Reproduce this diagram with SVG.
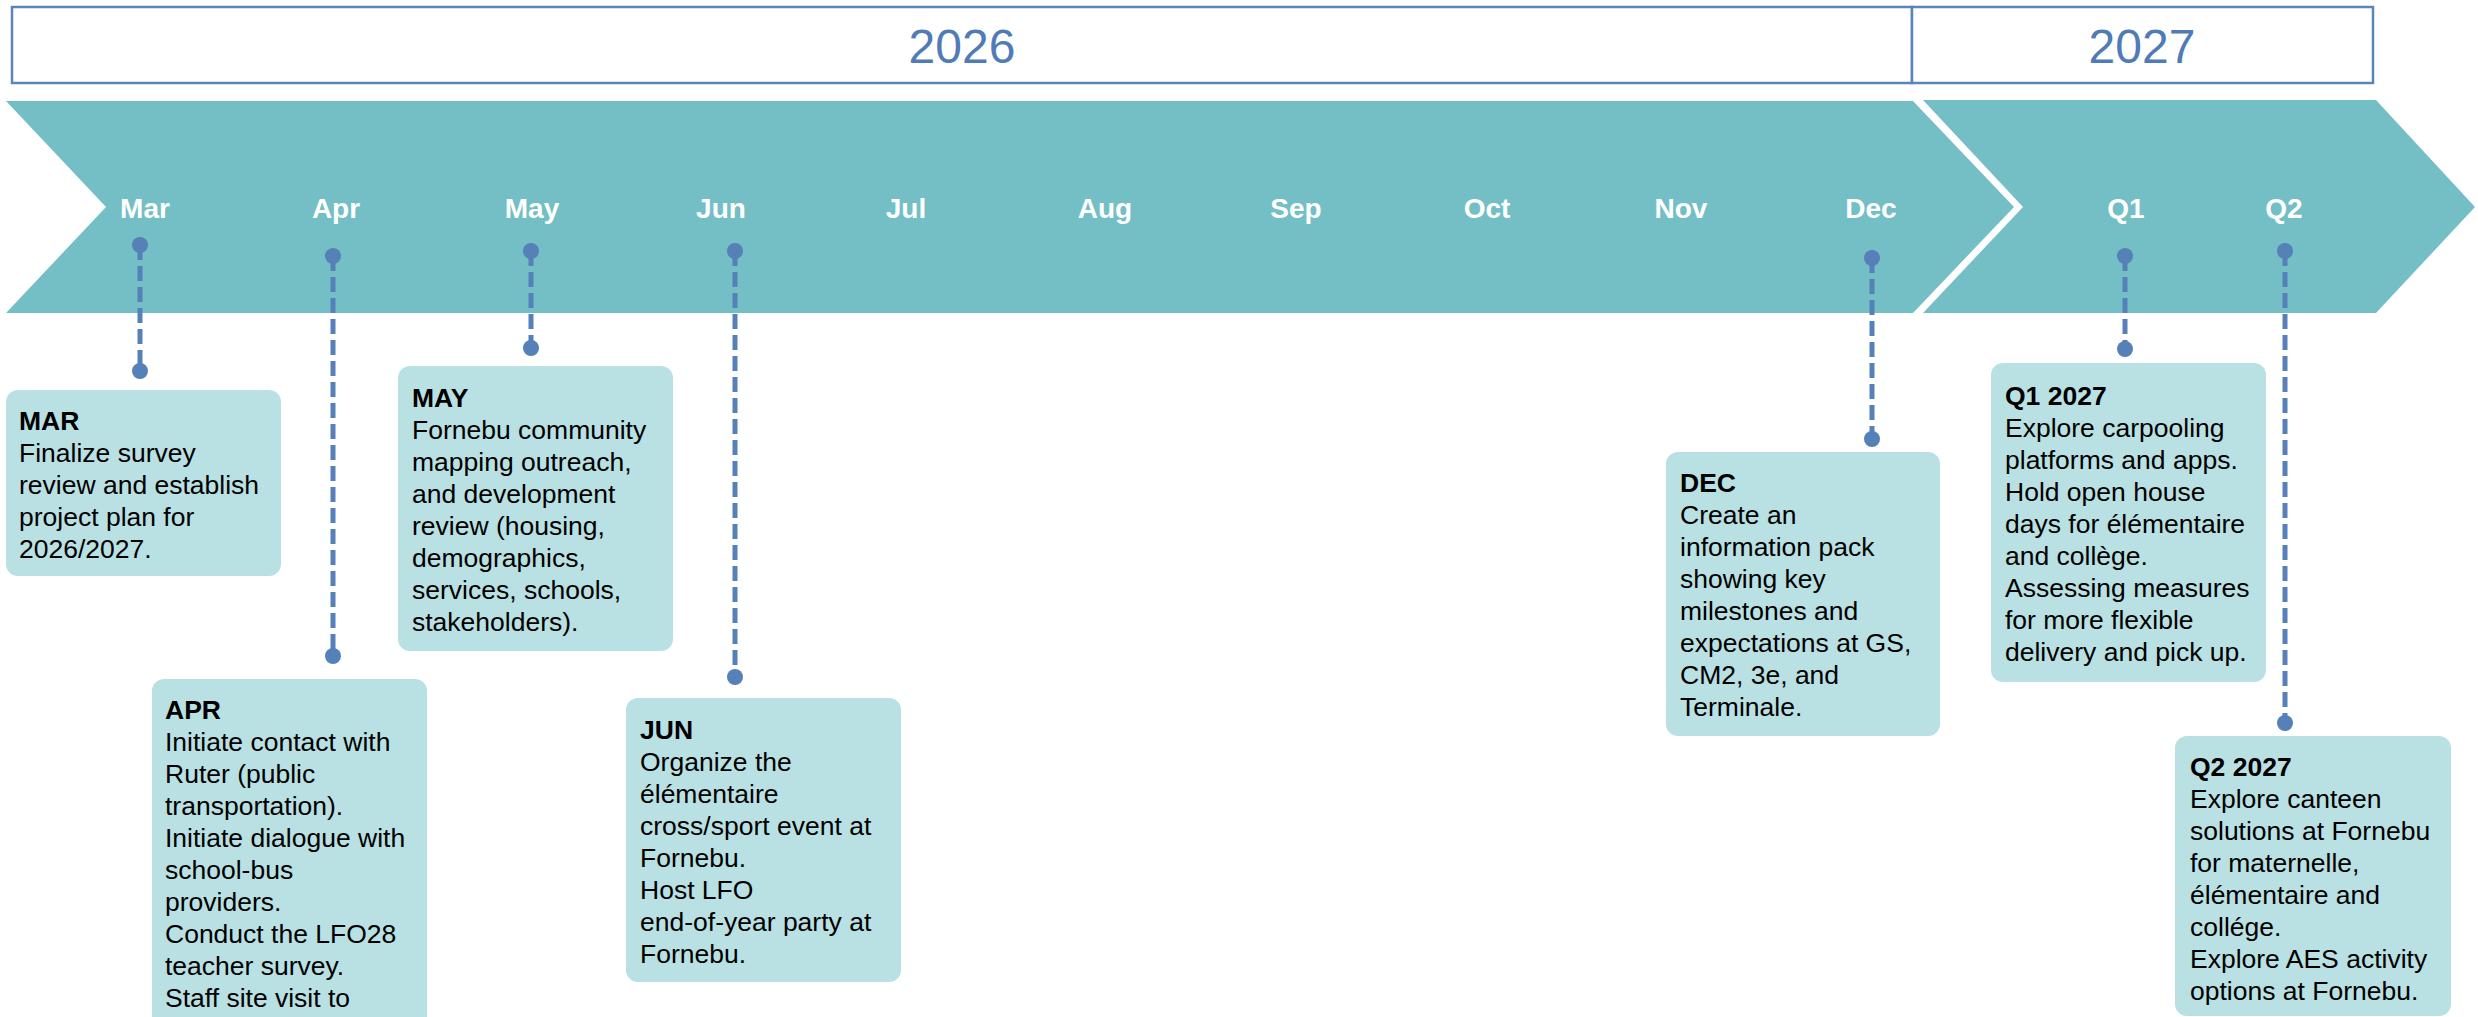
<svg xmlns="http://www.w3.org/2000/svg" width="2478" height="1017" viewBox="0 0 2478 1017">
<style>
.yr{fill:#ffffff;stroke:#5b84bb;stroke-width:2.5}
.yrt{font-family:"Liberation Sans",Arial,sans-serif;font-size:48px;fill:#4f7cb6;text-anchor:middle}
.chev{fill:#73bfc5}
.mon{font-family:"Liberation Sans",Arial,sans-serif;font-size:28px;font-weight:bold;fill:#ffffff;text-anchor:middle}
.box{fill:#b9e0e3}
.txt{font-family:"Liberation Sans",Arial,sans-serif;font-size:26.5px;fill:#000000}
.hd{font-weight:bold}
.pin{stroke:#5580b8;stroke-width:5;stroke-dasharray:15 6;fill:none}
.dot{fill:#5580b8}
</style>
<rect width="2478" height="1017" fill="#ffffff"/>
<g id="year-bar">
<rect class="yr" x="12" y="7" width="1900" height="76"/>
<rect class="yr" x="1912" y="7" width="461" height="76"/>
<text class="yrt" x="962" y="63">2026</text>
<text class="yrt" x="2142" y="63">2027</text>
</g>
<g id="timeline">
<polygon class="chev" points="6,101 1913,101 2014,207 1913,313 6,313 106,207"/>
<polygon class="chev" points="1923,100 2376,100 2475,207 2376,313 1923,313 2023,207"/>
<text class="mon" x="145" y="218">Mar</text>
<text class="mon" x="336" y="218">Apr</text>
<text class="mon" x="532" y="218">May</text>
<text class="mon" x="721" y="218">Jun</text>
<text class="mon" x="906" y="218">Jul</text>
<text class="mon" x="1105" y="218">Aug</text>
<text class="mon" x="1296" y="218">Sep</text>
<text class="mon" x="1487" y="218">Oct</text>
<text class="mon" x="1681" y="218">Nov</text>
<text class="mon" x="1871" y="218">Dec</text>
<text class="mon" x="2126" y="218">Q1</text>
<text class="mon" x="2284" y="218">Q2</text>
</g>
<g id="connectors">
<line class="pin" x1="140" y1="245" x2="140" y2="371"/>
<circle class="dot" cx="140" cy="245" r="8"/><circle class="dot" cx="140" cy="371" r="8"/>
<line class="pin" x1="333" y1="256" x2="333" y2="656"/>
<circle class="dot" cx="333" cy="256" r="8"/><circle class="dot" cx="333" cy="656" r="8"/>
<line class="pin" x1="531" y1="251" x2="531" y2="348"/>
<circle class="dot" cx="531" cy="251" r="8"/><circle class="dot" cx="531" cy="348" r="8"/>
<line class="pin" x1="735" y1="251" x2="735" y2="677"/>
<circle class="dot" cx="735" cy="251" r="8"/><circle class="dot" cx="735" cy="677" r="8"/>
<line class="pin" x1="1872" y1="258" x2="1872" y2="439"/>
<circle class="dot" cx="1872" cy="258" r="8"/><circle class="dot" cx="1872" cy="439" r="8"/>
<line class="pin" x1="2125" y1="256" x2="2125" y2="349"/>
<circle class="dot" cx="2125" cy="256" r="8"/><circle class="dot" cx="2125" cy="349" r="8"/>
<line class="pin" x1="2285" y1="251" x2="2285" y2="723"/>
<circle class="dot" cx="2285" cy="251" r="8"/><circle class="dot" cx="2285" cy="723" r="8"/>
</g>
<g id="node-mar">
<rect class="box" x="6" y="390" width="275" height="186" rx="12"/>
<text class="txt" x="19" y="430"><tspan class="hd">MAR</tspan><tspan x="19" dy="32">Finalize survey</tspan><tspan x="19" dy="32">review and establish</tspan><tspan x="19" dy="32">project plan for</tspan><tspan x="19" dy="32">2026/2027.</tspan></text>
</g>
<g id="node-apr">
<rect class="box" x="152" y="679" width="275" height="400" rx="12"/>
<text class="txt" x="165" y="719"><tspan class="hd">APR</tspan><tspan x="165" dy="32">Initiate contact with</tspan><tspan x="165" dy="32">Ruter (public</tspan><tspan x="165" dy="32">transportation).</tspan><tspan x="165" dy="32">Initiate dialogue with</tspan><tspan x="165" dy="32">school-bus</tspan><tspan x="165" dy="32">providers.</tspan><tspan x="165" dy="32">Conduct the LFO28</tspan><tspan x="165" dy="32">teacher survey.</tspan><tspan x="165" dy="32">Staff site visit to</tspan></text>
</g>
<g id="node-may">
<rect class="box" x="398" y="366" width="275" height="285" rx="12"/>
<text class="txt" x="412" y="407"><tspan class="hd">MAY</tspan><tspan x="412" dy="32">Fornebu community</tspan><tspan x="412" dy="32">mapping outreach,</tspan><tspan x="412" dy="32">and development</tspan><tspan x="412" dy="32">review (housing,</tspan><tspan x="412" dy="32">demographics,</tspan><tspan x="412" dy="32">services, schools,</tspan><tspan x="412" dy="32">stakeholders).</tspan></text>
</g>
<g id="node-jun">
<rect class="box" x="626" y="698" width="275" height="284" rx="12"/>
<text class="txt" x="640" y="739"><tspan class="hd">JUN</tspan><tspan x="640" dy="32">Organize the</tspan><tspan x="640" dy="32">élémentaire</tspan><tspan x="640" dy="32">cross/sport event at</tspan><tspan x="640" dy="32">Fornebu.</tspan><tspan x="640" dy="32">Host LFO</tspan><tspan x="640" dy="32">end-of-year party at</tspan><tspan x="640" dy="32">Fornebu.</tspan></text>
</g>
<g id="node-dec">
<rect class="box" x="1666" y="452" width="274" height="284" rx="12"/>
<text class="txt" x="1680" y="492"><tspan class="hd">DEC</tspan><tspan x="1680" dy="32">Create an</tspan><tspan x="1680" dy="32">information pack</tspan><tspan x="1680" dy="32">showing key</tspan><tspan x="1680" dy="32">milestones and</tspan><tspan x="1680" dy="32">expectations at GS,</tspan><tspan x="1680" dy="32">CM2, 3e, and</tspan><tspan x="1680" dy="32">Terminale.</tspan></text>
</g>
<g id="node-q1">
<rect class="box" x="1991" y="363" width="275" height="319" rx="12"/>
<text class="txt" x="2005" y="405"><tspan class="hd">Q1 2027</tspan><tspan x="2005" dy="32">Explore carpooling</tspan><tspan x="2005" dy="32">platforms and apps.</tspan><tspan x="2005" dy="32">Hold open house</tspan><tspan x="2005" dy="32">days for élémentaire</tspan><tspan x="2005" dy="32">and collège.</tspan><tspan x="2005" dy="32">Assessing measures</tspan><tspan x="2005" dy="32">for more flexible</tspan><tspan x="2005" dy="32">delivery and pick up.</tspan></text>
</g>
<g id="node-q2">
<rect class="box" x="2175" y="736" width="276" height="280" rx="12"/>
<text class="txt" x="2190" y="776"><tspan class="hd">Q2 2027</tspan><tspan x="2190" dy="32">Explore canteen</tspan><tspan x="2190" dy="32">solutions at Fornebu</tspan><tspan x="2190" dy="32">for maternelle,</tspan><tspan x="2190" dy="32">élémentaire and</tspan><tspan x="2190" dy="32">collége.</tspan><tspan x="2190" dy="32">Explore AES activity</tspan><tspan x="2190" dy="32">options at Fornebu.</tspan></text>
</g>
</svg>
